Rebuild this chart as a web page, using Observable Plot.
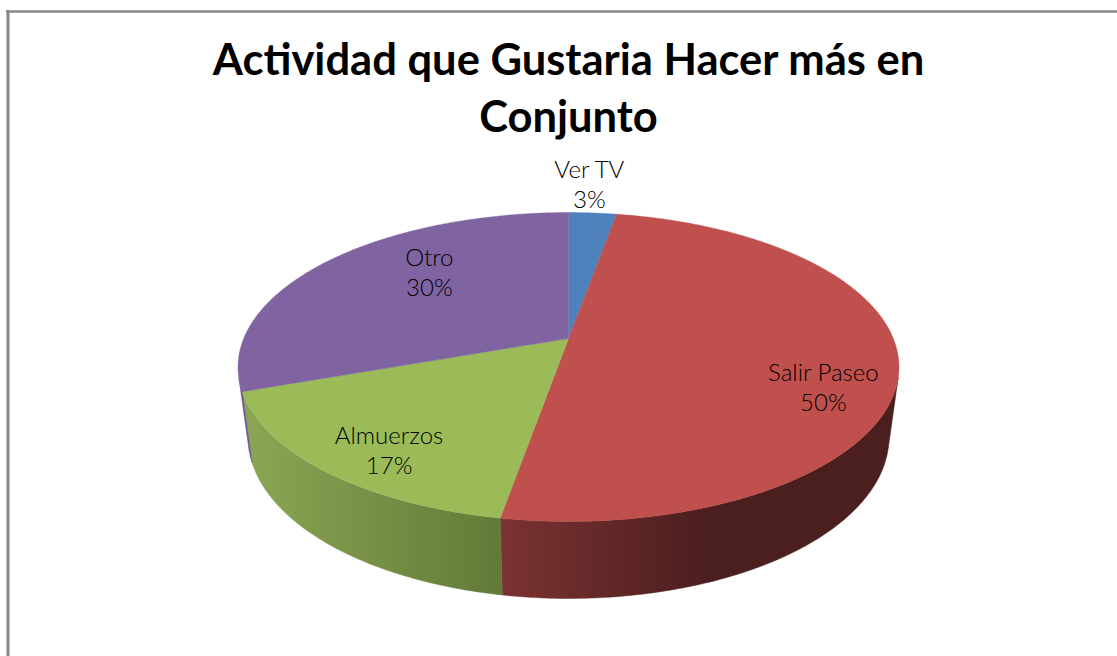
<!DOCTYPE html>
<html>
<head>
<meta charset="utf-8">
<script src="https://cdn.jsdelivr.net/npm/d3@7"></script>
<script src="https://cdn.jsdelivr.net/npm/@observablehq/plot@0.6"></script>
<style>
html,body{margin:0;padding:0;background:#fff;overflow:hidden}
svg{display:block}
</style>
</head>
<body>
<div id="chart"></div>
<script>
// Data
const categories = ["Ver TV", "Salir Paseo", "Almuerzos", "Otro"];
const values = [2.8, 49.9, 16.8, 30.4];
const titleLines = ["Actividad que Gustaria Hacer más en", "Conjunto"];

// Styles
const topColors = ["#4f81bd", "#c0504d", "#9bbb59", "#8064a2"];
const wallGradients = [
  {from: 560, to: 620, colors: ["#3a5a85", "#3a5a85"]},
  {from: 500, to: 700, colors: ["#7c3232", "#4c1f1f"]},
  {from: 245, to: 500, colors: ["#8ba654", "#627a38"]},
  {from: 238, to: 568, colors: ["#6c5490", "#6c5490"]}
];

// Perspective of the disc
const W = 1117, H = 656;
const cx = 568, cy = 338, k = 0.1845, a = 324.8, b = 149.2;
function project(theta, r = 1) {
  const u = r * Math.sin(theta), v = -r * Math.cos(theta), d = 1 - k * v;
  return [cx + a * u / d, cy + b * v / d];
}
function projectBottom(theta) {
  const [x, y] = project(theta);
  return [cx + (x - cx) * 0.97, y + 68 - 9 * Math.cos(theta)];
}
// A wall point faces the viewer when the rim runs against the way down to the base
function facesViewer(t) {
  const e = 1e-3;
  const [x0, y0] = project(t - e), [x1, y1] = project(t + e);
  const [px, py] = project(t), [qx, qy] = projectBottom(t);
  return (x1 - x0) * (qy - py) - (y1 - y0) * (qx - px) < 0;
}

const total = d3.sum(values);
let acc = 0;
const slices = values.map((v, i) => {
  const start = acc / total * 2 * Math.PI;
  acc += v;
  return {i, name: categories[i], value: v, start, end: acc / total * 2 * Math.PI};
});

// A top-face outline and a visible-wall outline per slice
const STEP = Math.PI / 360;
const outlines = slices.map(s => {
  const n = Math.max(1, Math.ceil((s.end - s.start) / STEP));
  const angles = d3.range(n + 1).map(j => s.start + (s.end - s.start) * j / n);
  const rim = angles.map(t => project(t));
  const seen = angles.filter(facesViewer);
  const upper = seen.map(t => project(t));
  const lower = seen.map(t => projectBottom(t)).reverse();
  return {
    top: [[cx, cy], ...rim, [cx, cy]].map(([x, y]) => ({x, y})),
    wall: [...upper, ...lower, ...upper.slice(0, 1)].map(([x, y]) => ({x, y}))
  };
});

// Label placement: radial position plus a small nudge
const labelRadius = [1.265, 0.78, 0.764, 0.547];
const labelNudge = [[-8.5, -3], [-1, 27], [0, 13], [-2, -23]];
const labels = slices.map(s => {
  const [x, y] = project((s.start + s.end) / 2, labelRadius[s.i]);
  return {
    x: x + labelNudge[s.i][0],
    y: y + labelNudge[s.i][1],
    text: s.name + "\n" + Math.round(s.value) + "%"
  };
});

function gradientDefs() {
  const defs = d3.create("svg:defs");
  wallGradients.forEach((g, i) => {
    const lg = defs.append("linearGradient")
      .attr("id", "wall" + i)
      .attr("gradientUnits", "userSpaceOnUse")
      .attr("x1", g.from).attr("x2", g.to).attr("y1", 0).attr("y2", 0);
    lg.append("stop").attr("offset", 0).attr("stop-color", g.colors[0]);
    lg.append("stop").attr("offset", 1).attr("stop-color", g.colors[1]);
  });
  return defs.node();
}

const fontFamily = "Lato, 'Open Sans', sans-serif";
const chart = Plot.plot({
  width: W,
  height: H,
  margin: 0,
  style: {background: "#fff", fontFamily},
  x: {domain: [0, W], range: [0, W], axis: null},
  y: {domain: [0, H], range: [0, H], axis: null},
  marks: [
    gradientDefs,
    Plot.ruleX([7.5], {y1: 10, y2: H, stroke: "#888", strokeWidth: 3}),
    Plot.ruleY([11], {x1: 6, x2: W, stroke: "#888", strokeWidth: 2.4}),
    ...outlines.filter(o => o.wall.length > 2).map(o => {
      const i = outlines.indexOf(o);
      return Plot.line(o.wall, {x: "x", y: "y", fill: `url(#wall${i})`, stroke: `url(#wall${i})`, strokeWidth: 0.5, curve: "linear"});
    }),
    ...outlines.map((o, i) => Plot.line(o.top, {x: "x", y: "y", fill: topColors[i], stroke: topColors[i], strokeWidth: 0.4, curve: "linear"})),
    Plot.text(labels, {x: "x", y: "y", text: "text", fontSize: 24, fontWeight: 300, lineHeight: 1.25, fill: "#000", textAnchor: "middle"}),
    Plot.text(titleLines, {
      x: () => cx,
      y: (d, i) => 61 + i * 57,
      text: d => d,
      fontSize: 43.5,
      fontWeight: 700,
      fill: "#000",
      textAnchor: "middle"
    })
  ]
});
document.getElementById("chart").append(chart);
</script>
</body>
</html>
